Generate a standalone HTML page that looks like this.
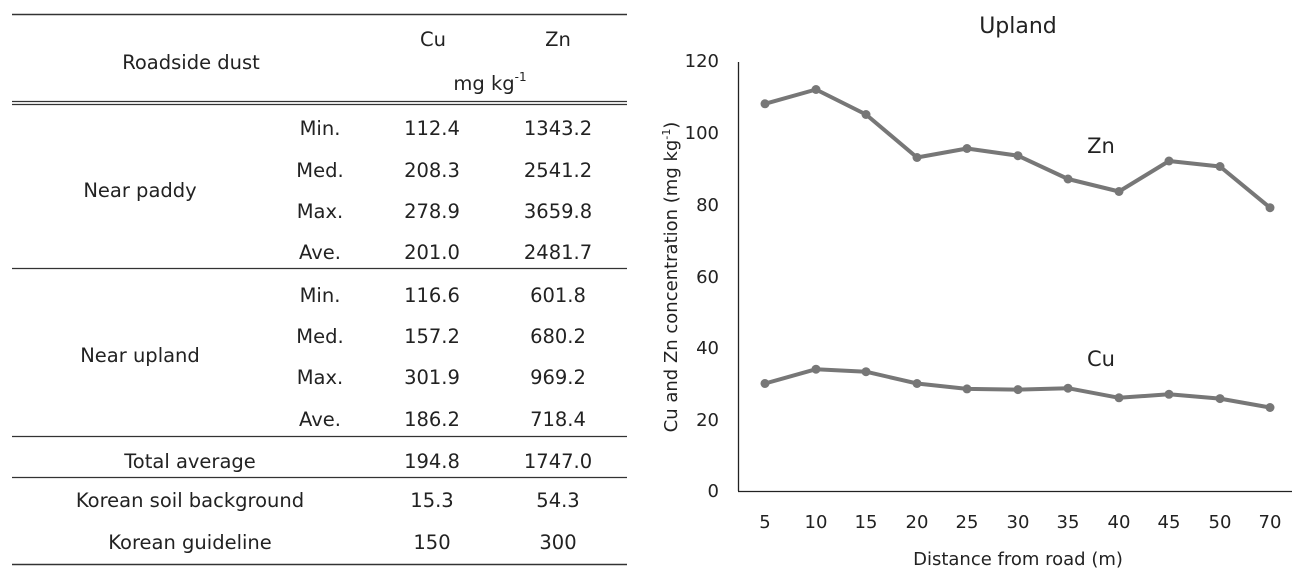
<!DOCTYPE html>
<html><head><meta charset="utf-8"><style>
body{margin:0;background:#fff;width:1297px;height:574px;overflow:hidden}
svg text{font-family:"DejaVu Sans","Liberation Sans",sans-serif;fill:#222}
</style></head><body>
<svg width="1297" height="574" viewBox="0 0 1297 574">
<g stroke="#333" fill="none">
<line x1="12" y1="14.5" x2="627" y2="14.5" stroke-width="1.5"/>
<line x1="12" y1="101.5" x2="627" y2="101.5" stroke-width="1.2"/>
<line x1="12" y1="104.5" x2="627" y2="104.5" stroke-width="1.2"/>
<line x1="12" y1="268.5" x2="627" y2="268.5" stroke-width="1.3"/>
<line x1="12" y1="436.5" x2="627" y2="436.5" stroke-width="1.3"/>
<line x1="12" y1="477.5" x2="627" y2="477.5" stroke-width="1.3"/>
<line x1="12" y1="564.5" x2="627" y2="564.5" stroke-width="1.5"/>
</g>
<g font-size="19.5" text-anchor="middle">
<text x="191" y="69">Roadside dust</text>
<text x="433" y="46">Cu</text><text x="558" y="46">Zn</text>
<text x="490" y="90">mg kg<tspan font-size="12" dy="-9">-1</tspan></text>
<text x="140" y="197">Near paddy</text>
<text x="140" y="362">Near upland</text>
<text x="320" y="135">Min.</text><text x="432" y="135">112.4</text><text x="558" y="135">1343.2</text>
<text x="320" y="177">Med.</text><text x="432" y="177">208.3</text><text x="558" y="177">2541.2</text>
<text x="320" y="218">Max.</text><text x="432" y="218">278.9</text><text x="558" y="218">3659.8</text>
<text x="320" y="259">Ave.</text><text x="432" y="259">201.0</text><text x="558" y="259">2481.7</text>
<text x="320" y="302">Min.</text><text x="432" y="302">116.6</text><text x="558" y="302">601.8</text>
<text x="320" y="343">Med.</text><text x="432" y="343">157.2</text><text x="558" y="343">680.2</text>
<text x="320" y="384">Max.</text><text x="432" y="384">301.9</text><text x="558" y="384">969.2</text>
<text x="320" y="426">Ave.</text><text x="432" y="426">186.2</text><text x="558" y="426">718.4</text>
<text x="190" y="468">Total average</text><text x="432" y="468">194.8</text><text x="558" y="468">1747.0</text>
<text x="190" y="507">Korean soil background</text><text x="432" y="507">15.3</text><text x="558" y="507">54.3</text>
<text x="190" y="549">Korean guideline</text><text x="432" y="549">150</text><text x="558" y="549">300</text>
</g>
<!-- chart -->
<text x="1018" y="33" font-size="22" text-anchor="middle">Upland</text>
<line x1="738.5" y1="62" x2="738.5" y2="491" stroke="#222" stroke-width="1.3"/>
<line x1="738" y1="491.5" x2="1292" y2="491.5" stroke="#222" stroke-width="1.3"/>
<g font-size="18" text-anchor="end">
<text x="719" y="497">0</text><text x="719" y="426">20</text><text x="719" y="354">40</text>
<text x="719" y="283">60</text><text x="719" y="211">80</text><text x="719" y="139">100</text><text x="719" y="67">120</text>
</g>
<g font-size="18" text-anchor="middle">
<text x="765" y="528">5</text><text x="816" y="528">10</text><text x="866" y="528">15</text><text x="917" y="528">20</text><text x="967" y="528">25</text><text x="1018" y="528">30</text><text x="1068" y="528">35</text><text x="1119" y="528">40</text><text x="1169" y="528">45</text><text x="1220" y="528">50</text><text x="1270" y="528">70</text>
<text x="1018" y="565">Distance from road (m)</text>
</g>
<text transform="translate(677,277) rotate(-90)" font-size="18" text-anchor="middle">Cu and Zn concentration (mg kg<tspan font-size="11" dy="-7">-1</tspan><tspan dy="7">)</tspan></text>
<text x="1101" y="153" font-size="21" text-anchor="middle">Zn</text>
<text x="1101" y="366" font-size="21" text-anchor="middle">Cu</text>
<g stroke="#777" stroke-width="4" fill="none" stroke-linejoin="round">
<polyline points="765,103.8 816,89.5 866,114.5 917,157.5 967,148.5 1018,155.7 1068,179 1119,191.5 1169,161 1220,166.5 1270,207.7"/>
<polyline points="765,383.5 816,369.2 866,371.7 917,383.5 967,388.9 1018,389.6 1068,388.2 1119,397.8 1169,394.3 1220,398.6 1270,407.5"/>
</g>
<g fill="#777">
<circle cx="765" cy="103.8" r="4.5"/><circle cx="816" cy="89.5" r="4.5"/><circle cx="866" cy="114.5" r="4.5"/><circle cx="917" cy="157.5" r="4.5"/><circle cx="967" cy="148.5" r="4.5"/><circle cx="1018" cy="155.7" r="4.5"/><circle cx="1068" cy="179" r="4.5"/><circle cx="1119" cy="191.5" r="4.5"/><circle cx="1169" cy="161" r="4.5"/><circle cx="1220" cy="166.5" r="4.5"/><circle cx="1270" cy="207.7" r="4.5"/>
<circle cx="765" cy="383.5" r="4.5"/><circle cx="816" cy="369.2" r="4.5"/><circle cx="866" cy="371.7" r="4.5"/><circle cx="917" cy="383.5" r="4.5"/><circle cx="967" cy="388.9" r="4.5"/><circle cx="1018" cy="389.6" r="4.5"/><circle cx="1068" cy="388.2" r="4.5"/><circle cx="1119" cy="397.8" r="4.5"/><circle cx="1169" cy="394.3" r="4.5"/><circle cx="1220" cy="398.6" r="4.5"/><circle cx="1270" cy="407.5" r="4.5"/>
</g>
</svg>
</body></html>
